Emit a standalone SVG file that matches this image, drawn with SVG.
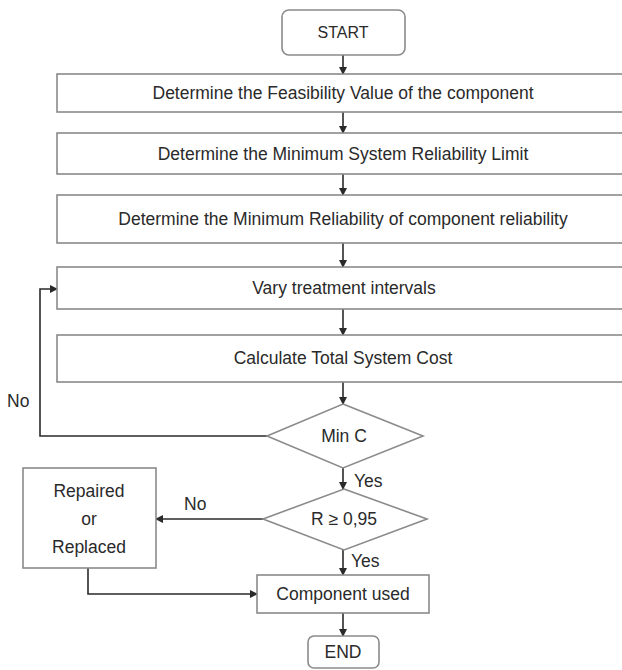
<svg xmlns="http://www.w3.org/2000/svg" width="622" height="670" viewBox="0 0 622 670">
<defs>
<style>
.box{fill:#fff;stroke:#8a8a8a;stroke-width:1.6}
.t{font-family:"Liberation Sans",Arial,sans-serif;font-size:17.5px;fill:#2a2a2a;text-anchor:middle;dominant-baseline:central}
.lbl{font-family:"Liberation Sans",Arial,sans-serif;font-size:17.5px;fill:#2a2a2a}
.c{fill:none;stroke:#2a2a2a;stroke-width:1.6;marker-end:url(#ah)}
</style>
<marker id="ah" viewBox="0 0 8 8" refX="7" refY="4" markerWidth="5" markerHeight="5" orient="auto" markerUnits="strokeWidth">
<path d="M0,0 L8,4 L0,8 z" fill="#2a2a2a"/>
</marker>
</defs>
<rect width="622" height="670" fill="#fff"/>
<g id="connectors">
<path class="c" d="M343,55 V74"/>
<path class="c" d="M343,112 V133"/>
<path class="c" d="M343,174 V195"/>
<path class="c" d="M343,243 V267"/>
<path class="c" d="M343,309 V335"/>
<path class="c" d="M343,382 V404"/>
<path class="c" d="M343,468 V489"/>
<path class="c" d="M343,550 V575"/>
<path class="c" d="M343,613 V636"/>
<path class="c" d="M267,436 H40 V289 H57"/>
<path class="c" d="M263,519 H156"/>
<path class="c" d="M88,568 V594 H257"/>
<text class="lbl" x="7" y="407">No</text>
<text class="lbl" x="354" y="487">Yes</text>
<text class="lbl" x="184" y="510">No</text>
<text class="lbl" x="351" y="567">Yes</text>
</g>
<g id="start">
<rect class="box" x="282" y="10" width="123" height="45" rx="7"/>
<text class="t" x="343" y="32" style="font-size:16px">START</text>
</g>
<g id="feasibility">
<rect class="box" x="57" y="74" width="570" height="38"/>
<text class="t" x="343" y="93">Determine the Feasibility Value of the component</text>
</g>
<g id="min-system">
<rect class="box" x="57" y="133" width="570" height="41"/>
<text class="t" x="343" y="154">Determine the Minimum System Reliability Limit</text>
</g>
<g id="min-component">
<rect class="box" x="57" y="195" width="570" height="48"/>
<text class="t" x="343" y="219">Determine the Minimum Reliability of component reliability</text>
</g>
<g id="vary">
<rect class="box" x="57" y="267" width="570" height="42"/>
<text class="t" x="344" y="288">Vary treatment intervals</text>
</g>
<g id="calc">
<rect class="box" x="57" y="335" width="570" height="47"/>
<text class="t" x="343" y="358">Calculate Total System Cost</text>
</g>
<g id="minc">
<polygon class="box" points="343,404 423,436 343,468 267,436"/>
<text class="t" x="344" y="436">Min C</text>
</g>
<g id="rcheck">
<polygon class="box" points="344,489 427,519 344,550 263,519"/>
<text class="t" x="344" y="519">R ≥ 0,95</text>
</g>
<g id="repaired">
<rect class="box" x="23" y="468" width="133" height="100"/>
<text class="t" x="89" y="491">Repaired</text>
<text class="t" x="89" y="519">or</text>
<text class="t" x="89" y="547">Replaced</text>
</g>
<g id="used">
<rect class="box" x="257" y="575" width="172" height="38"/>
<text class="t" x="343" y="594">Component used</text>
</g>
<g id="end">
<rect class="box" x="308" y="636" width="71" height="32" rx="6"/>
<text class="t" x="343" y="652">END</text>
</g>
</svg>
